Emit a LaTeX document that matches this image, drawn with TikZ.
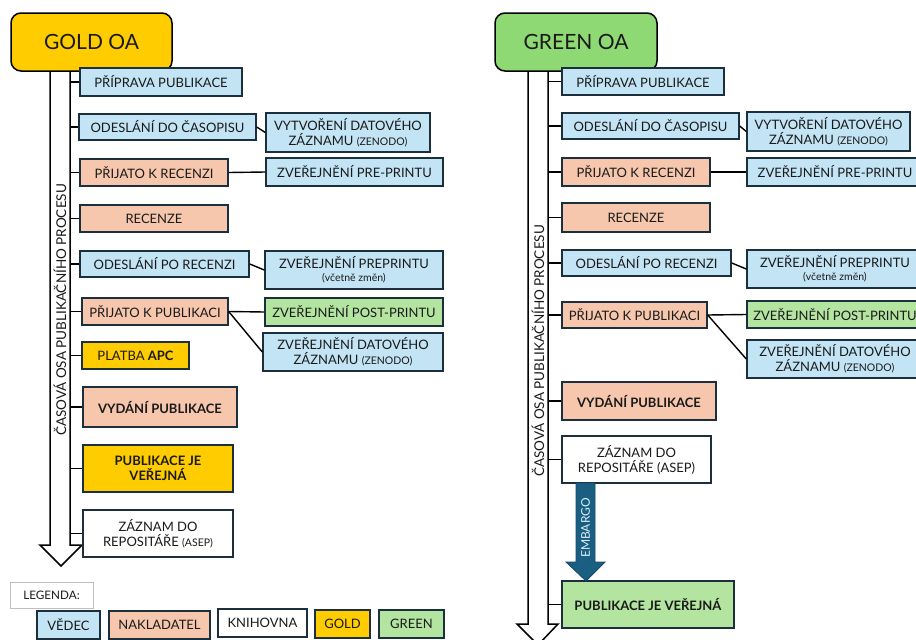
\documentclass[tikz,border=0pt]{standalone}
\usepackage{fontspec}
\setmainfont{Lato}
\definecolor{bordc}{HTML}{1C2F3C}
\definecolor{cblue}{HTML}{C3E4F4}
\definecolor{csalmon}{HTML}{F6C7AD}
\definecolor{cgold}{HTML}{FFCC00}
\definecolor{cgreen}{HTML}{B3E5A1}
\definecolor{chgreen}{HTML}{8ED973}
\definecolor{cemb}{HTML}{1A5E82}
\definecolor{ctext}{HTML}{1A1A1A}
\begin{document}
\begin{tikzpicture}[x=1pt,y=-1pt,
  box/.style={draw=bordc, line width=1.4pt, inner sep=0pt, align=center, text=ctext,
    font=\fontsize{13}{15}\selectfont},
  bl/.style={box, fill=cblue},
  sa/.style={box, fill=csalmon},
  go/.style={box, fill=cgold},
  gr/.style={box, fill=cgreen},
  wh/.style={box, fill=white},
  head/.style={draw=black, line width=1.5pt, rounded corners=10pt, inner sep=0pt,
    minimum width=161pt, minimum height=58pt, font=\fontsize{21}{24}\selectfont, text=ctext},
  tick/.style={line width=1.5pt, black},
  link/.style={line width=1.4pt, black},
  timeax/.style={draw=black, line width=1.5pt, fill=white, line join=miter}
]
\useasboundingbox (0,0) rectangle (916,640);
\newcommand{\bx}[5]{\node[#1, minimum width=#3pt, minimum height=#4pt] (#2) at #5}
\newcommand{\smt}[1]{{\fontsize{10.5}{11.5}\selectfont #1}}

% ---------- GOLD timeline ----------
\draw[timeax] (50,66) -- (70,66) -- (70,545) -- (82,545) -- (61,566) -- (40,545) -- (50,545) -- cycle;
\coordinate (gax) at (70,0);
\node[rotate=90, font=\fontsize{13.5}{15}\selectfont, text=ctext] (glab) at (60,310) {ČASOVÁ OSA PUBLIKAČNÍHO PROCESU};
\node[head, fill=cgold] (ghead) at (91.5,42) {GOLD OA};

\bx{bl}{g1}{162}{28}{(161,82)} {PŘÍPRAVA PUBLIKACE};
\bx{bl}{g2}{177}{26}{(167.5,127)} {ODESLÁNÍ DO ČASOPISU};
\bx{bl}{g3}{164}{39}{(348,132.5)} {VYTVOŘENÍ DATOVÉHO\\ZÁZNAMU \smt{(ZENODO)}};
\bx{sa}{g4}{148}{27}{(154,172.5)} {PŘIJATO K RECENZI};
\bx{bl}{g5}{177}{28}{(354.5,172)} {ZVEŘEJNĚNÍ PRE-PRINTU};
\bx{sa}{g6}{148}{27}{(154,218.5)} {RECENZE};
\bx{bl}{g7}{169}{26}{(164.5,264)} {ODESLÁNÍ PO RECENZI};
\bx{bl}{g8}{178}{38}{(354,270)} {ZVEŘEJNĚNÍ PREPRINTU\\[-2pt]\smt{(včetně změn)}};
\bx{sa}{g9}{146}{27}{(155,311.5)} {PŘIJATO K PUBLIKACI};
\bx{gr}{g10}{178}{28}{(354,312)} {ZVEŘEJNĚNÍ POST-PRINTU};
\bx{bl}{g11}{180}{38}{(353,352)} {ZVEŘEJNĚNÍ DATOVÉHO\\ZÁZNAMU \smt{(ZENODO)}};
\bx{go}{g12}{107}{27}{(135.5,355.5)} {PLATBA \textbf{APC}};
\bx{sa}{g13}{154}{40}{(160,407)} {\textbf{VYDÁNÍ PUBLIKACE}};
\bx{go}{g14}{150}{47}{(158,468.5)} {\textbf{PUBLIKACE JE}\\\textbf{VEŘEJNÁ}};
\bx{wh}{g15}{150}{47}{(158,533.5)} {ZÁZNAM DO\\REPOSITÁŘE \smt{(ASEP)}};

\foreach \n in {g1,g2,g4,g6,g7,g9,g12,g13,g14,g15}
  \draw[tick] (\n.west) -- (\n.west -| gax);
\draw[link] (g2.east) -- (g3.west);
\draw[link] (g4.east) -- (g5.west);
\draw[link] (g7.east) -- (g8.west);
\draw[link] (g9.east) -- (g10.west);
\draw[link] (g9.east) -- (g11.west);

% ---------- GREEN timeline ----------
\draw[timeax] (528,66) -- (548,66) -- (548,624) -- (558,624) -- (538,645) -- (517,624) -- (528,624) -- cycle;
\coordinate (rax) at (548,0);
\node[rotate=90, font=\fontsize{13.5}{15}\selectfont, text=ctext] (rlab) at (538,351) {ČASOVÁ OSA PUBLIKAČNÍHO PROCESU};
\node[head, fill=chgreen, minimum width=162pt] (rhead) at (576,42) {GREEN OA};

\bx{bl}{r1}{162}{27}{(643,81.5)} {PŘÍPRAVA PUBLIKACE};
\bx{bl}{r2}{177}{26}{(650.5,126)} {ODESLÁNÍ DO ČASOPISU};
\bx{bl}{r3}{163}{39}{(828.5,131.5)} {VYTVOŘENÍ DATOVÉHO\\ZÁZNAMU \smt{(ZENODO)}};
\bx{sa}{r4}{148}{28}{(636,172)} {PŘIJATO K RECENZI};
\bx{bl}{r5}{176}{28}{(835,172)} {ZVEŘEJNĚNÍ PRE-PRINTU};
\bx{sa}{r6}{148}{29}{(636,217.5)} {RECENZE};
\bx{bl}{r7}{169}{26}{(646.5,263)} {ODESLÁNÍ PO RECENZI};
\bx{bl}{r8}{176}{38}{(835,269)} {ZVEŘEJNĚNÍ PREPRINTU\\[-2pt]\smt{(včetně změn)}};
\bx{sa}{r9}{145}{26}{(634.5,315)} {PŘIJATO K PUBLIKACI};
\bx{gr}{r10}{176}{27}{(835,314.5)} {ZVEŘEJNĚNÍ POST-PRINTU};
\bx{bl}{r11}{176}{38}{(835,359)} {ZVEŘEJNĚNÍ DATOVÉHO\\ZÁZNAMU \smt{(ZENODO)}};
\bx{sa}{r12}{154}{38}{(639,401)} {\textbf{VYDÁNÍ PUBLIKACE}};
\bx{wh}{r13}{149}{47}{(636.5,459.5)} {ZÁZNAM DO\\REPOSITÁŘE (ASEP)};
\bx{gr}{r15}{172}{47}{(648,604.5)} {\textbf{PUBLIKACE JE VEŘEJNÁ}};

\foreach \n in {r1,r2,r4,r6,r7,r9,r12,r13,r15}
  \draw[tick] (\n.west) -- (\n.west -| rax);
\draw[link] (r2.east) -- (r3.west);
\draw[link] (r4.east) -- (r5.west);
\draw[link] (r7.east) -- (r8.west);
\draw[link] (r9.east) -- (r10.west);
\draw[link] (r9.east) -- (r11.west);

% embargo arrow
\coordinate (embtip) at (586,581);
\draw[fill=cemb, draw=cemb!80!black, line width=0.8pt]
  (576,483) -- (595,483) -- (595,562) -- (605,562) -- (embtip) -- (566,562) -- (576,562) -- cycle;
\node[rotate=90, text=cblue!60!white, font=\fontsize{12}{13}\selectfont] (emb) at (585.5,528) {EMBARGO};

% ---------- legend ----------
\node[draw=black!25, line width=0.8pt, minimum width=83pt, minimum height=26pt, inner sep=0pt,
  font=\fontsize{11.7}{13}\selectfont, text=ctext] (leg) at (51.5,595) {LEGENDA:};
\bx{bl}{l1}{63}{28}{(68.5,625)} {VĚDEC};
\bx{sa}{l2}{101}{28}{(159.5,625)} {NAKLADATEL};
\bx{wh}{l3}{89}{28}{(262.5,623)} {KNIHOVNA};
\bx{go}{l4}{55}{28}{(342.5,624)} {GOLD};
\bx{gr}{l5}{65}{28}{(411.5,624)} {GREEN};
\end{tikzpicture}
\end{document}
